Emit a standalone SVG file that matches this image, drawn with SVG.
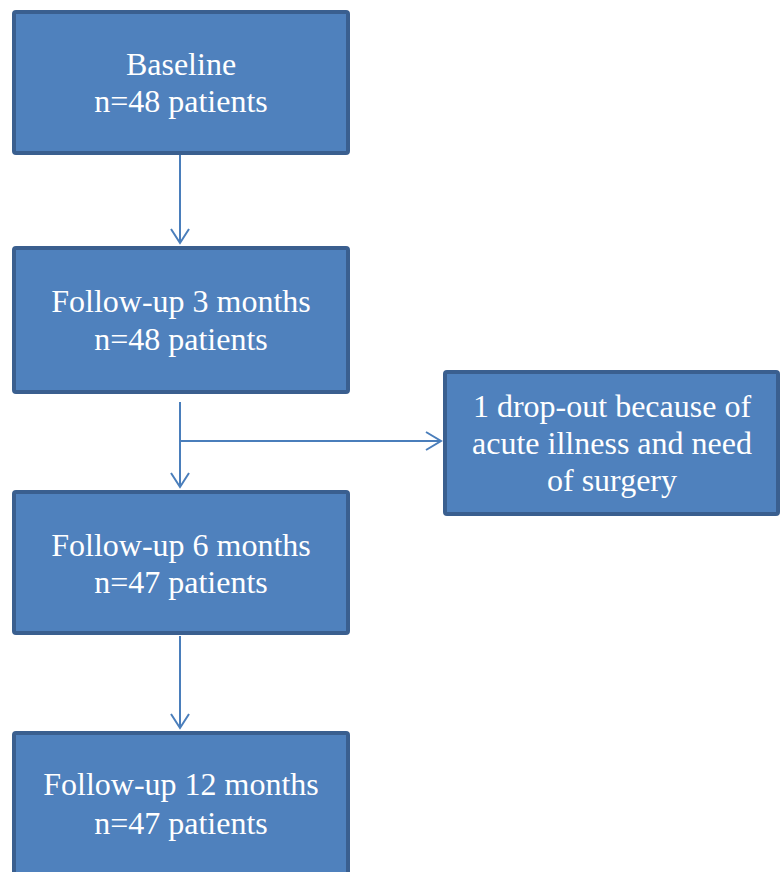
<svg xmlns="http://www.w3.org/2000/svg" width="780" height="872" viewBox="0 0 780 872">
<defs>
<style>
.box{fill:#4F81BD;stroke:#3A5F8F;stroke-width:4}
.t{font-family:"Liberation Serif","Times New Roman",serif;font-size:32px;fill:#FFFFFF;text-anchor:middle}
.c{fill:none;stroke:#4A7EBB;stroke-width:2}
.ah{fill:none;stroke:#4A7EBB;stroke-width:2}
</style>
</defs>
<rect width="780" height="872" fill="#FFFFFF"/>
<g id="connectors">
<line class="c" x1="180" y1="155" x2="180" y2="243"/>
<polyline class="ah" points="171,229 180,243 189,229"/>
<line class="c" x1="180" y1="402" x2="180" y2="487"/>
<polyline class="ah" points="171,473 180,487 189,473"/>
<line class="c" x1="180" y1="441" x2="441" y2="441"/>
<polyline class="ah" points="426,432 441,441 426,450"/>
<line class="c" x1="180" y1="636" x2="180" y2="728"/>
<polyline class="ah" points="171,714 180,728 189,714"/>
</g>
<g id="baseline">
<rect class="box" x="14" y="12" width="334" height="141" rx="2"/>
<text class="t" x="181" y="75">Baseline</text>
<text class="t" x="181" y="112">n=48 patients</text>
</g>
<g id="fu3">
<rect class="box" x="14" y="248" width="334" height="144" rx="2"/>
<text class="t" x="181" y="312">Follow-up 3 months</text>
<text class="t" x="181" y="350">n=48 patients</text>
</g>
<g id="dropout">
<rect class="box" x="445" y="372" width="333" height="142" rx="2"/>
<text class="t" x="612" y="417">1 drop-out because of</text>
<text class="t" x="612" y="454">acute illness and need</text>
<text class="t" x="612" y="491">of surgery</text>
</g>
<g id="fu6">
<rect class="box" x="14" y="492" width="334" height="141" rx="2"/>
<text class="t" x="181" y="556">Follow-up 6 months</text>
<text class="t" x="181" y="593">n=47 patients</text>
</g>
<g id="fu12">
<rect class="box" x="14" y="733" width="334" height="145" rx="2"/>
<text class="t" x="181" y="795">Follow-up 12 months</text>
<text class="t" x="181" y="834">n=47 patients</text>
</g>
</svg>
